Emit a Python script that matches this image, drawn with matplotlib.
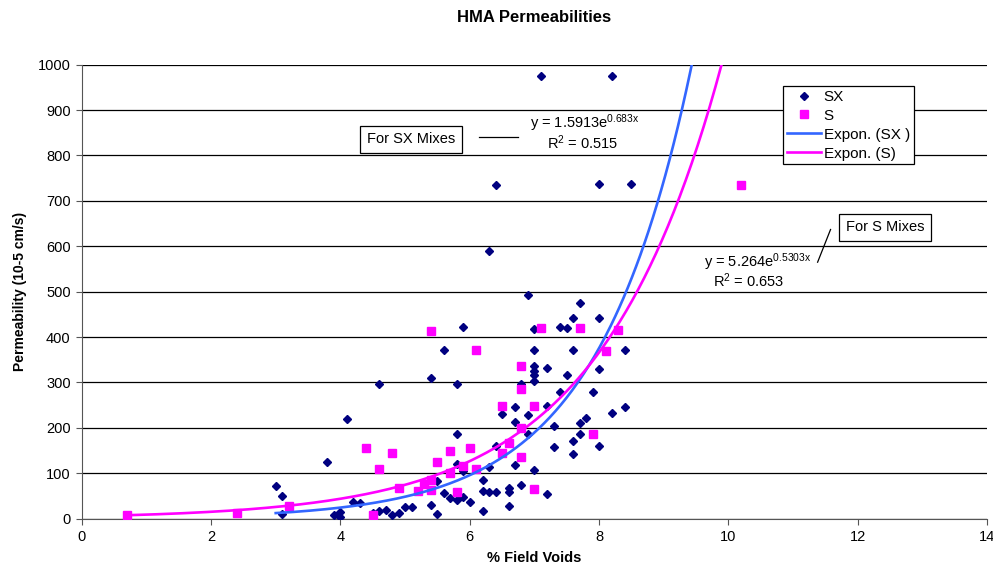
import numpy as np
import matplotlib
matplotlib.use("Agg")
import matplotlib.pyplot as plt

plt.rcParams['font.family'] = ['Liberation Sans', 'DejaVu Sans']
plt.rcParams['mathtext.fontset'] = 'custom'
plt.rcParams['mathtext.rm'] = 'Liberation Sans'
plt.rcParams['mathtext.it'] = 'Liberation Sans:italic'
plt.rcParams['mathtext.bf'] = 'Liberation Sans:bold'

# SX mixes: field voids (%) and permeability (10-5 cm/s)
sx_voids = [7.1, 8.2, 6.4, 8.0, 8.5, 6.3, 6.9,
            7.7, 7.6, 8.0,
            5.9, 7.0, 7.4, 7.5,
            5.6, 7.0, 7.6, 8.4,
            7.0, 7.0, 7.0, 7.0, 7.2, 8.0, 7.5,
            5.4, 4.6, 5.8, 6.8,
            7.4, 7.9,
            6.7, 7.2, 8.4,
            6.5, 6.9, 8.2, 4.1,
            6.7, 7.8, 7.7, 7.3,
            5.8, 6.9, 7.7, 7.6,
            6.4, 7.3, 8.0, 7.6,
            3.8, 5.8, 6.7, 6.3, 5.9, 7.0,
            5.5, 6.2, 6.8, 3.0,
            6.6, 6.6, 6.2, 6.3, 6.4, 7.2, 5.6,
            3.1, 5.9, 5.7, 5.8, 6.0,
            4.2, 4.3, 5.4, 6.6, 5.0, 5.1,
            6.2, 4.6, 4.7, 4.5, 4.9, 4.0, 3.9, 4.0, 4.8, 5.5, 3.1]
sx_perm = [975, 975, 735, 737, 737, 590, 492,
           475, 442, 442,
           422, 418, 422, 421,
           372, 371, 371, 371,
           336, 326, 316, 304, 333, 330, 317,
           310, 297, 297, 297,
           279, 278,
           247, 248, 247,
           230, 228, 232, 219,
           212, 221, 211, 204,
           186, 186, 187, 172,
           161, 157, 160, 142,
           124, 120, 119, 113, 105, 107,
           82, 85, 74, 72,
           67, 58, 62, 58, 58, 55, 56,
           50, 47, 45, 41, 37,
           36, 34, 30, 28, 25, 25,
           18, 18, 19, 12, 12, 15, 8, 4, 8, 10, 10]

# S mixes
s_voids = [0.7, 2.4, 3.2, 4.4, 4.8, 4.6, 4.5, 4.9, 5.2, 5.3, 5.4, 5.4,
           5.5, 5.7, 6.0, 5.9, 6.1, 5.7, 5.8, 6.5, 7.0, 6.6, 6.5, 6.8,
           6.8, 7.0, 6.8, 6.8, 5.4, 7.1, 6.1, 7.7, 8.3, 8.1, 7.9, 10.2]
s_perm = [8, 12, 27, 155, 145, 109, 8, 67, 61, 76, 63, 85,
          124, 149, 156, 117, 110, 101, 59, 248, 248, 167, 145, 199,
          136, 65, 337, 286, 413, 421, 371, 421, 416, 369, 186, 735]

# exponential trendline coefficients y = a*exp(b*x)
sx_a, sx_b, sx_r2 = 1.5913, 0.683, 0.515
s_a, s_b, s_r2 = 5.264, 0.5303, 0.653

fig = plt.figure(figsize=(9.93, 5.67), dpi=100)
ax = fig.add_axes([0.0823, 0.0852, 0.9117, 0.8007])

xs = np.linspace(min(sx_voids), np.log(1000 / sx_a) / sx_b, 300)
xsm = np.linspace(min(s_voids), np.log(1000 / s_a) / s_b, 300)

ax.plot(sx_voids, sx_perm, 'D', color='#000080', ms=4.2, ls='none', label='SX', zorder=3)
ax.plot(s_voids, s_perm, 's', color='#FF00FF', ms=6.2, ls='none', label='S', zorder=3)
ax.plot(xs, sx_a * np.exp(sx_b * xs), color='#3366FF', lw=1.9, label='Expon. (SX )', zorder=4)
ax.plot(xsm, s_a * np.exp(s_b * xsm), color='#FF00FF', lw=1.9, label='Expon. (S)', zorder=4)

ax.set_xlim(0, 14)
ax.set_ylim(0, 1000)
ax.set_xticks(np.arange(0, 15, 2))
ax.set_yticks(np.arange(0, 1001, 100))
ax.yaxis.grid(True, color='black', lw=0.9)
ax.set_axisbelow(True)
for s in ['top', 'right']:
    ax.spines[s].set_visible(False)
ax.spines['left'].set_color('#555555')
ax.spines['bottom'].set_color('#555555')
ax.tick_params(direction='out', length=4, labelsize=10.5, color='#555555', pad=4)

ax.set_xlabel('% Field Voids', fontsize=10.5, fontweight='bold', labelpad=5)
ax.set_ylabel('Permeability (10-5 cm/s)', fontsize=10, fontweight='bold', labelpad=8)
fig.text(0.0823 + 0.9117 / 2, 1 - 17 / 567, 'HMA Permeabilities', ha='center', va='center',
         fontsize=12, fontweight='bold')

leg = ax.legend(loc='upper left', bbox_to_anchor=(0.775, 0.953), fontsize=11,
                frameon=True, fancybox=False, edgecolor='black', framealpha=1,
                borderpad=0.25, labelspacing=0.32, handlelength=2.2, handletextpad=0.2,
                borderaxespad=0)
leg.get_frame().set_linewidth(0.9)

# trendline annotations
bbox = dict(boxstyle='square,pad=0.45', fc='white', ec='black', lw=0.9)
ax.text(5.09, 836, 'For SX Mixes', fontsize=10.5, ha='center', va='center', bbox=bbox)
ax.plot([6.15, 6.75], [840, 840], color='black', lw=0.9)
ax.text(7.78, 872, 'y = 1.5913e$^{\\mathrm{0.683x}}$', fontsize=10.5, ha='center', va='center')
ax.text(7.75, 828, 'R$^{2}$ = 0.515', fontsize=10.5, ha='center', va='center')

ax.text(12.42, 642, 'For S Mixes', fontsize=10.5, ha='center', va='center', bbox=bbox)
ax.plot([11.58, 11.38], [637, 565], color='black', lw=0.9)
ax.text(10.45, 566, 'y = 5.264e$^{\\mathrm{0.5303x}}$', fontsize=10.5, ha='center', va='center')
ax.text(10.32, 524, 'R$^{2}$ = 0.653', fontsize=10.5, ha='center', va='center')

fig.savefig('out.png', dpi=100)
